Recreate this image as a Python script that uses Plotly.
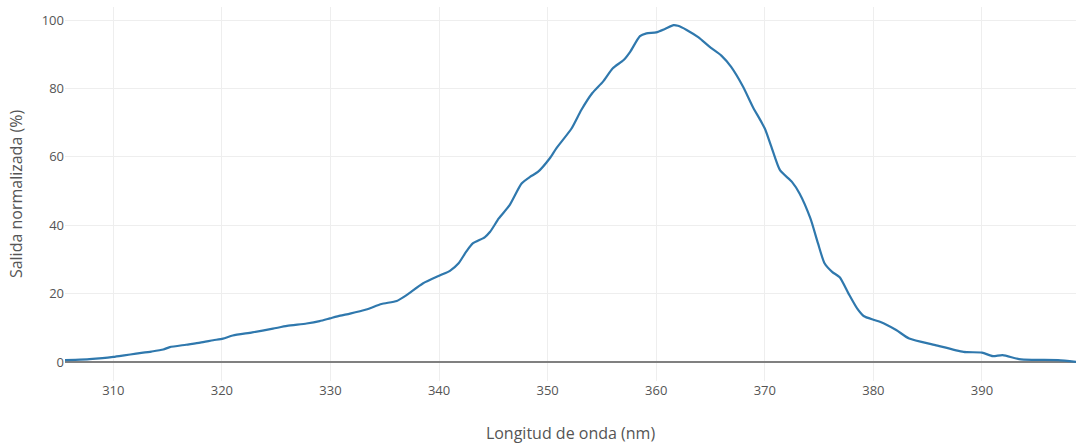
import plotly.graph_objects as go

wavelength_nm = [
    305.5, 306.5, 307.8, 309.0, 310.0, 311.0, 312.1, 313.5, 314.6, 315.2,
    316.7, 318.0, 319.2, 320.1, 321.0, 322.8, 324.7, 326.0, 327.8, 329.0,
    329.95, 330.9, 331.8, 333.3, 334.7, 336.1, 337.0, 338.5, 340.1, 341.0,
    341.8, 342.5, 343.1, 344.2, 344.7, 345.5, 346.5, 347.6, 348.4, 349.1,
    350.2, 350.8, 352.2, 353.1, 354.1, 355.1, 356.0, 357.0, 357.6, 358.5,
    359.1, 360.0, 360.8, 361.6, 362.0, 362.8, 363.9, 364.9, 366.0, 366.9,
    368.0, 368.9, 370.0, 370.6, 371.4, 372.5, 373.2, 374.2, 374.9, 375.5,
    376.2, 376.9, 377.7, 378.5, 379.1, 380.0, 380.6, 382.1, 383.3, 385.7,
    388.3, 390.0, 391.0, 391.9, 393.6, 397.0, 398.7,
]
output_pct = [
    0.6, 0.7, 0.9, 1.2, 1.55, 2.0, 2.5, 3.1, 3.7, 4.4,
    5.1, 5.7, 6.4, 6.9, 7.8, 8.7, 9.8, 10.6, 11.3, 12.0,
    12.8, 13.6, 14.2, 15.4, 17.0, 17.9, 19.6, 23.0, 25.4, 26.7,
    28.9, 32.3, 34.7, 36.5, 38.1, 42.0, 45.9, 52.2, 54.2, 55.6,
    59.6, 62.5, 68.3, 73.7, 78.6, 82.0, 85.9, 88.3, 90.7, 95.3,
    96.1, 96.4, 97.4, 98.5, 98.3, 97.1, 94.9, 92.2, 89.6, 86.3,
    80.5, 74.6, 68.3, 63.0, 56.1, 52.7, 49.3, 42.0, 34.7, 28.9,
    26.4, 24.8, 20.1, 15.7, 13.5, 12.4, 11.8, 9.4, 6.9, 5.0,
    3.0, 2.8, 1.75, 2.05, 0.8, 0.6, 0.1,
]

x_title = "Longitud de onda (nm)"
y_title = "Salida normalizada (%)"

fig = go.Figure()
fig.add_trace(go.Scatter(
    x=wavelength_nm, y=output_pct, mode="lines",
    line=dict(color="#2f78ad", width=2.2, shape="spline", smoothing=0.6),
    showlegend=False,
))

fig.update_layout(
    width=1076, height=446,
    margin=dict(l=65, r=0, t=7, b=65),
    paper_bgcolor="white", plot_bgcolor="white",
    font=dict(family="Open Sans", color="#555", size=13),
    xaxis=dict(
        title=dict(text=x_title, font=dict(size=16, color="#555"), standoff=29),
        range=[305.55, 398.66], dtick=10, tick0=310,
        showgrid=True, gridcolor="#eeeeee", zeroline=False,
        showline=False, ticks="", tickfont=dict(size=13, color="#555"),
        automargin=False,
    ),
    yaxis=dict(
        title=dict(text=y_title, font=dict(size=16, color="#555")),
        range=[-5.5, 103.8], dtick=20, tick0=0,
        showgrid=True, gridcolor="#eeeeee",
        zeroline=True, zerolinecolor="#808080", zerolinewidth=1.5,
        showline=False, ticks="", tickfont=dict(size=13, color="#555"),
        automargin=False,
    ),
)

fig.write_html("out.html", config={"displayModeBar": False},
               post_script="document.body.style.margin='0';")
